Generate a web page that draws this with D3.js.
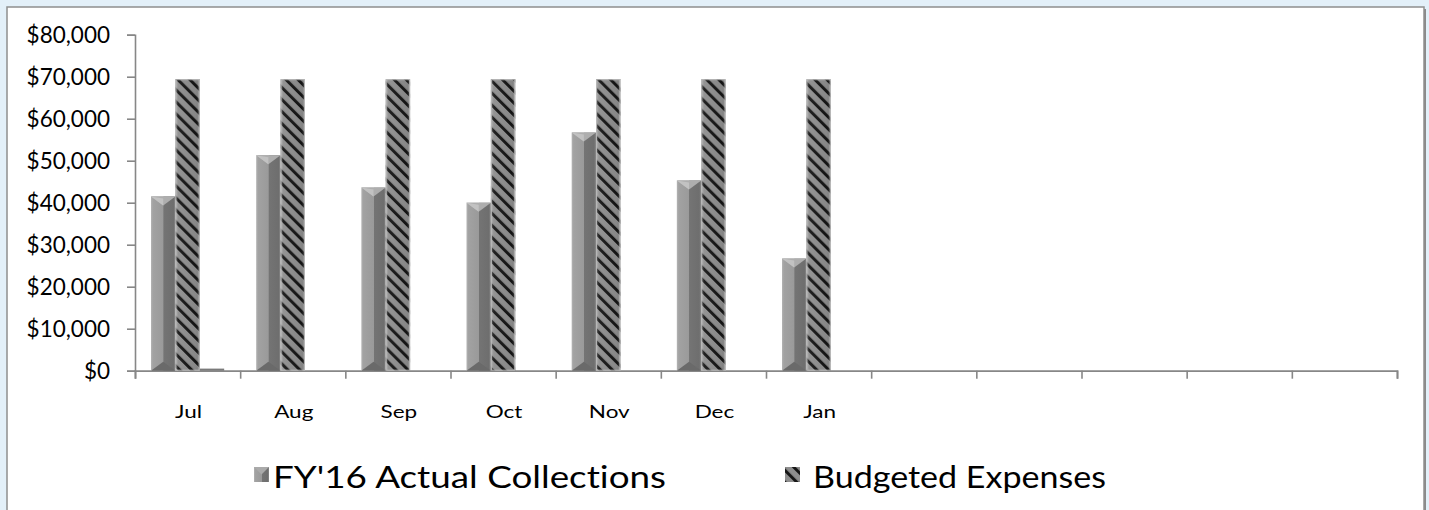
<!DOCTYPE html>
<html><head><meta charset="utf-8">
<script src="https://cdn.jsdelivr.net/npm/d3@7"></script>
<style>
html,body{margin:0;padding:0;background:#e3f0f9;}
svg{display:block;}
text{font-family:Lato,"Open Sans",sans-serif;fill:#000;font-variant-ligatures:none;font-feature-settings:"liga" 0;}
</style></head>
<body>
<svg id="chart" width="1429" height="510"></svg>
<script>
const categories = ["Jul","Aug","Sep","Oct","Nov","Dec","Jan","","","","",""];
const collections = [41500, 51300, 43600, 40000, 56700, 45300, 26700, null, null, null, null, null];
const budgeted = [69400, 69400, 69400, 69400, 69400, 69400, 69400, null, null, null, null, null];
const otherSeries = [500, null, null, null, null, null, null, null, null, null, null, null];
const yTicks = [0, 10000, 20000, 30000, 40000, 50000, 60000, 70000, 80000];
const legendNames = ["FY'16 Actual Collections", "Budgeted Expenses"];

(function(){
const svg = d3.select("#chart");
const defs = svg.append("defs");

// panel
svg.append("rect").attr("x",9).attr("y",9).attr("width",1417).attr("height",520).attr("fill","#8a8a8a");
svg.append("rect").attr("x",7).attr("y",7).attr("width",1417).attr("height",520)
  .attr("fill","#fff").attr("stroke","#8f8f8f").attr("stroke-width",1.5);

const pL = 135, pR = 1397, pT = 34.7, pB = 370.7;
const x = d3.scaleBand().domain(d3.range(categories.length)).range([pL, pR]).padding(0);
const y = d3.scaleLinear().domain([0, 80000]).range([pB, pT]);
const seriesIdx = [0,1,2];
const gap = 16;
const xs = d3.scaleBand().domain(seriesIdx).range([gap, x.bandwidth()-gap]).padding(0);

// gradients
const g1 = defs.append("linearGradient").attr("id","colGrad").attr("x1",0).attr("x2",1).attr("y1",0).attr("y2",0);
[[0,"#b4b4b4"],[0.08,"#a2a2a2"],[0.5,"#9a9a9a"],[0.52,"#747474"],[0.92,"#6e6e6e"],[1,"#8c8c8c"]]
  .forEach(([o,c])=>g1.append("stop").attr("offset",o).attr("stop-color",c));
const pat = defs.append("pattern").attr("id","hatch").attr("patternUnits","userSpaceOnUse")
  .attr("width",8.5).attr("height",8.5).attr("patternTransform","rotate(-45)");
pat.append("rect").attr("width",8.5).attr("height",8.5).attr("fill","#8e8e8e");
pat.append("rect").attr("x",0).attr("width",3).attr("height",8.5).attr("fill","#151515");
const g2 = defs.append("linearGradient").attr("id","hatchShade").attr("x1",0).attr("x2",1);
[[0,"rgba(255,255,255,0.35)"],[0.12,"rgba(255,255,255,0.05)"],[0.85,"rgba(0,0,0,0.05)"],[1,"rgba(255,255,255,0.35)"]]
  .forEach(([o,c])=>g2.append("stop").attr("offset",o).attr("stop-color",c));

// axes
const yAxis = d3.axisLeft(y).tickValues(yTicks).tickSize(8).tickPadding(8)
  .tickFormat(d => "$" + d3.format(",")(d));
const gy = svg.append("g").attr("transform",`translate(${pL},0)`).call(yAxis);
gy.select(".domain").attr("stroke","#878787").attr("stroke-width",1.6);
gy.selectAll(".tick line").attr("stroke","#878787").attr("stroke-width",1.6);
gy.selectAll(".tick text").attr("font-size",22.5).attr("font-family","Lato").attr("fill","#000")
  .attr("x",-25).attr("dy","0.35em");

const xAxis = d3.axisBottom(d3.scaleLinear().domain([0,categories.length]).range([pL,pR]))
  .tickValues(d3.range(categories.length+1)).tickSize(8).tickFormat("");
const gx = svg.append("g").attr("transform",`translate(0,${pB})`).call(xAxis);
gx.select(".domain").attr("stroke","#878787").attr("stroke-width",1.8);
gx.selectAll(".tick line").attr("stroke","#878787").attr("stroke-width",1.6);

// category labels
svg.append("g").selectAll("text").data(categories).join("text")
  .attr("transform",(d,i)=>`translate(${x(i)+x.bandwidth()/2+1},418) scale(1.25,1)`)
  .attr("text-anchor","middle").attr("font-size",18).attr("font-weight",400).text(d=>d);

// bars: collections
const gc = svg.append("g");
categories.forEach((c,i)=>{
  const v = collections[i];
  if (v == null) return;
  const bx = x(i)+xs(0), bw = xs.bandwidth(), by = y(v), bh = pB - y(v);
  gc.append("rect").attr("x",bx).attr("y",by).attr("width",bw).attr("height",bh).attr("fill","url(#colGrad)");
  gc.append("path").attr("d",`M${bx},${by} L${bx+bw},${by} L${bx+bw/2},${by+9} Z`).attr("fill","#aeaeae");
  gc.append("path").attr("d",`M${bx},${by} L${bx+bw/2},${by+9} L${bx+bw/2},${by+2} Z`).attr("fill","#c2c2c2");
  gc.append("path").attr("d",`M${bx},${pB} L${bx+bw/2},${pB-9} L${bx+bw},${pB} Z`).attr("fill","#6a6a6a");
});

// bars: budgeted
const gb = svg.append("g");
categories.forEach((c,i)=>{
  const v = budgeted[i];
  if (v == null) return;
  const bx = x(i)+xs(1), bw = xs.bandwidth(), by = y(v), bh = pB - y(v);
  gb.append("rect").attr("x",bx).attr("y",by).attr("width",bw).attr("height",bh).attr("fill","url(#hatch)");
  gb.append("rect").attr("x",bx).attr("y",by).attr("width",bw).attr("height",bh).attr("fill","url(#hatchShade)");
  gb.append("rect").attr("x",bx+0.5).attr("y",by+0.5).attr("width",bw-1).attr("height",bh-1)
    .attr("fill","none").attr("stroke","#b8b8b8").attr("stroke-width",1);
});

// third (unlabelled) series
const go = svg.append("g");
categories.forEach((c,i)=>{
  const v = otherSeries[i];
  if (v == null) return;
  go.append("rect").attr("x",x(i)+xs(2)).attr("y",y(v)).attr("width",xs.bandwidth())
    .attr("height",pB-y(v)).attr("fill","#7a7a7a");
});

// legend
const lg = svg.append("g");
const legX = [254, 785];
const legLen = [393, 293];
legendNames.forEach((n,i)=>{
  const sx = legX[i], sy = 467;
  lg.append("rect").attr("x",sx).attr("y",sy).attr("width",15).attr("height",15)
    .attr("fill", i===0 ? "url(#colGrad)" : "url(#hatch)");
  if (i===0) lg.append("path").attr("d",`M${sx},${sy} L${sx+15},${sy} L${sx+7.5},${sy+7.5} Z`).attr("fill","#aaa");
  lg.append("text").attr("x",sx+19 + (i===1?9:0)).attr("y",488)
    .attr("textLength",legLen[i]).attr("lengthAdjust","spacingAndGlyphs")
    .attr("font-size",30).text(n);
});
})();
</script>
</body></html>
